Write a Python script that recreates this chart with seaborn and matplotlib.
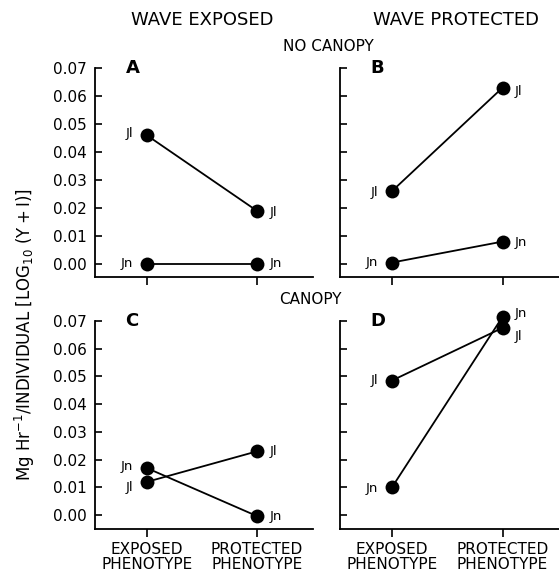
import matplotlib
matplotlib.use("Agg")
import matplotlib.pyplot as plt
import seaborn as sns
import pandas as pd

# data
phenotypes = ["EXPOSED\nPHENOTYPE", "PROTECTED\nPHENOTYPE"]
genotypes = ["Jl", "Jn"]

a_jl = [0.046, 0.019]
a_jn = [0.000, 0.000]
b_jl = [0.026, 0.063]
b_jn = [0.0005, 0.008]
c_jl = [0.012, 0.023]
c_jn = [0.017, -0.0003]
d_jl = [0.0485, 0.0675]
d_jn = [0.010, 0.0715]

yticks = [0.00, 0.01, 0.02, 0.03, 0.04, 0.05, 0.06, 0.07]

sns.set_style("ticks", {"axes.edgecolor": "k", "text.color": "k",
                        "xtick.color": "k", "ytick.color": "k",
                        "axes.labelcolor": "k"})
plt.rcParams["font.family"] = ["DejaVu Sans"]

fig = plt.figure(figsize=(5.59, 5.72), dpi=100)

# [left, bottom, width, height]
boxes = {
    "A": [0.170, 0.516, 0.390, 0.365],
    "B": [0.608, 0.516, 0.392, 0.365],
    "C": [0.170, 0.075, 0.390, 0.364],
    "D": [0.608, 0.075, 0.392, 0.364],
}
panels = {"A": (a_jl, a_jn), "B": (b_jl, b_jn), "C": (c_jl, c_jn), "D": (d_jl, d_jn)}

# label offsets (points) for [exposed, protected] per genotype
offs = {
    "A": {"Jl": [(-10, 1), (9, -1)], "Jn": [(-10, 0), (9, 0)]},
    "B": {"Jl": [(-10, -1), (9, -3)], "Jn": [(-10, 0), (9, -1)]},
    "C": {"Jl": [(-10, -4), (9, 0)], "Jn": [(-10, 1), (9, 0)]},
    "D": {"Jl": [(-10, 0), (9, -6)], "Jn": [(-10, -1), (9, 2)]},
}

for key, (jl, jn) in panels.items():
    ax = fig.add_axes(boxes[key])
    df = pd.DataFrame({
        "pos": [0, 1, 0, 1],
        "value": jl + jn,
        "geno": ["Jl", "Jl", "Jn", "Jn"],
    })
    sns.lineplot(data=df, x="pos", y="value", units="geno", estimator=None,
                 color="k", marker="o", markersize=10, markeredgecolor="k",
                 markeredgewidth=0, linewidth=1.3, clip_on=False, ax=ax)
    for g, vals in zip(genotypes, (jl, jn)):
        for i, v in enumerate(vals):
            dx, dy = offs[key][g][i]
            ax.annotate(g, (i, v), xytext=(dx, dy), textcoords="offset points",
                        ha="right" if i == 0 else "left", va="center",
                        fontsize=9.5, color="k", annotation_clip=False)

    top = key in ("A", "B")
    ax.set_ylim(-0.0046 if top else -0.005, 0.07)
    ax.set_xlim(-0.47, 1.51)
    ax.set_yticks(yticks)
    ax.set_xticks([0, 1])
    ax.set_xlabel("")
    ax.set_ylabel("")
    if key in ("A", "C"):
        ax.set_yticklabels([f"{t:.2f}" for t in yticks], fontsize=11)
    else:
        ax.set_yticklabels([])
    if top:
        ax.set_xticklabels([])
    else:
        ax.set_xticklabels(phenotypes, fontsize=11, linespacing=0.95)
    ax.tick_params(axis="y", direction="in", length=5, width=1.2, pad=6)
    ax.tick_params(axis="x", direction="out", length=6, width=1.2)
    for s in ("top", "right"):
        ax.spines[s].set_visible(False)
    for s in ("left", "bottom"):
        ax.spines[s].set_linewidth(1.3)
    ax.text(0.14, 1.0, key, transform=ax.transAxes, fontsize=13,
            fontweight="bold", va="center", ha="left")

fig.text(0.362, 0.965, "WAVE EXPOSED", fontsize=13, ha="center", va="center")
fig.text(0.815, 0.965, "WAVE PROTECTED", fontsize=13, ha="center", va="center")
fig.text(0.587, 0.918, "NO CANOPY", fontsize=11, ha="center", va="center")
fig.text(0.555, 0.476, "CANOPY", fontsize=11, ha="center", va="center")
fig.text(0.045, 0.415,
         r"Mg Hr$^{-1}$/INDIVIDUAL $\left[\mathrm{LOG}_{10}\ (\mathrm{Y+I})\right]$",
         rotation=90, fontsize=12, ha="center", va="center")

fig.savefig("out.png", dpi=100)
